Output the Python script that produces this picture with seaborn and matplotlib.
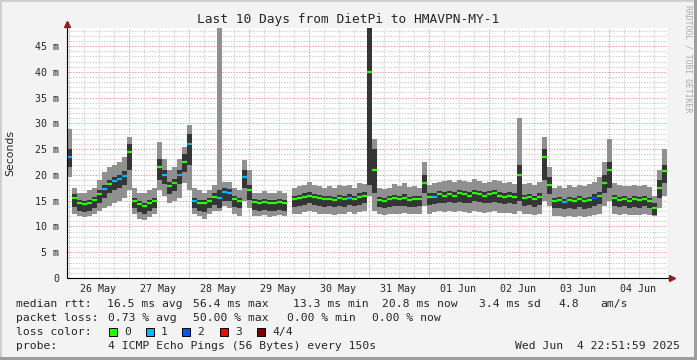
import numpy as np
import pandas as pd
import matplotlib
matplotlib.use('Agg')
import matplotlib.pyplot as plt
import matplotlib.dates as mdates
from matplotlib.patches import Rectangle
import seaborn as sns

# smokeping style rtt data, 2 hour bins, first bin starts 25 May 23:24 (values in ms)
start = '2025-05-25 23:24'
nan = np.nan

med = [23.5, 15.5, 14.5, 14.3, 14.6, 15.2, 16.3, 17.2, 18.2, 18.8,
       19.2, 19.8, 24.5, 15.0, 14.3, 14.0, 14.5, 15.0, 21.5, 20.0,
       17.8, 18.5, 20.0, 22.5, 26.0, 15.0, 14.5, 14.5, 15.0, 15.8,
       15.5, 16.7, 16.5, 15.3, 15.0, 19.5, 17.0, 14.8, 14.6, 14.8,
       14.5, 14.6, 14.8, 14.5, nan, 15.3, 15.5, 15.8, 16.0, 15.7,
       15.5, 15.3, 15.4, 15.2, 15.5, 15.3, 15.6, 15.4, 15.8, 16.0,
       40.0, 21.0, 15.2, 15.0, 15.3, 15.5, 15.4, 15.6, 15.2, 15.3,
       15.4, 18.5, 15.8, 15.8, 16.2, 16.0, 16.3, 16.0, 16.4, 16.2,
       16.0, 16.5, 16.3, 16.0, 16.2, 16.4, 16.0, 15.8, 16.0, 15.8,
       20.0, 15.5, 15.7, 15.3, 15.8, 23.5, 18.0, 15.0, 15.2, 14.8,
       15.2, 15.0, 15.3, 15.0, 15.2, 15.6, 16.0, 18.5, 21.0, 15.5,
       15.2, 15.4, 15.0, 15.3, 15.2, 15.4, 15.0, 13.5, 17.5, 20.8]

# fastest ping (bottom of smoke)
lo = [19.5, 12.5, 12.0, 11.8, 12.0, 12.5, 13.0, 13.5, 14.0, 14.5,
      15.0, 15.5, 17.0, 12.5, 11.5, 11.2, 11.8, 12.5, 17.0, 16.0,
      14.5, 15.0, 15.5, 18.5, 17.0, 12.5, 12.0, 11.5, 12.5, 13.0,
      13.0, 14.0, 13.5, 12.5, 12.0, 15.0, 13.5, 12.0, 12.0, 12.2,
      11.8, 12.0, 12.2, 12.0, nan, 12.5, 12.5, 12.8, 13.0, 12.8,
      12.5, 12.5, 12.4, 12.3, 12.5, 12.5, 12.8, 12.5, 12.8, 13.0,
      16.0, 13.0, 12.5, 12.2, 12.5, 12.5, 12.5, 12.6, 12.4, 12.4,
      12.5, 14.0, 12.5, 12.8, 13.0, 12.8, 13.0, 12.8, 13.0, 12.8,
      12.7, 13.0, 12.8, 12.6, 12.8, 13.0, 12.7, 12.6, 12.7, 12.5,
      13.0, 12.5, 12.4, 12.2, 12.5, 15.0, 14.0, 12.0, 12.0, 11.8,
      12.0, 11.8, 12.0, 11.8, 12.0, 12.2, 12.5, 14.0, 15.0, 12.5,
      12.2, 12.4, 12.2, 12.3, 12.2, 12.5, 12.2, 12.0, 13.5, 16.0]

# slowest ping (top of smoke)
hi = [29.0, 17.5, 16.5, 16.5, 17.0, 17.5, 19.0, 20.5, 21.5, 22.0,
      22.5, 23.5, 27.3, 17.5, 16.5, 16.5, 17.0, 17.5, 26.4, 23.0,
      21.0, 21.5, 23.0, 25.5, 29.6, 17.5, 17.0, 16.5, 17.0, 18.0,
      48.5, 18.6, 18.6, 17.5, 17.0, 22.9, 21.0, 16.5, 16.5, 16.8,
      16.5, 16.5, 16.8, 16.5, nan, 17.5, 17.8, 18.0, 18.6, 18.0,
      17.8, 17.5, 17.8, 17.5, 18.0, 17.8, 18.0, 17.5, 18.5, 18.2,
      48.5, 27.0, 17.5, 17.3, 17.5, 18.3, 17.8, 18.4, 17.6, 17.8,
      17.5, 22.5, 18.0, 18.5, 18.6, 18.8, 19.0, 18.6, 19.0, 18.8,
      18.6, 19.2, 18.8, 18.5, 18.6, 19.0, 18.8, 18.5, 18.6, 18.2,
      31.0, 18.3, 18.5, 18.0, 18.6, 27.3, 21.5, 17.5, 17.8, 17.5,
      18.0, 17.6, 18.0, 17.8, 18.3, 18.6, 19.5, 22.5, 27.0, 18.5,
      18.0, 17.8, 17.8, 18.0, 17.8, 18.0, 17.6, 16.0, 21.0, 25.0]

# 2nd and 3rd ping (dark core of the smoke)
p2 = [21.5, 13.8, 13.0, 12.8, 13.0, 13.6, 14.6, 15.5, 16.4, 17.0,
      17.5, 18.0, 21.0, 13.6, 12.8, 12.5, 13.0, 13.5, 19.0, 18.2,
      16.2, 16.8, 18.2, 20.5, 22.0, 13.5, 13.0, 12.9, 13.5, 14.2,
      13.5, 15.0, 15.0, 13.8, 13.5, 17.5, 15.2, 13.2, 13.0, 13.2,
      13.0, 13.0, 13.2, 13.0, nan, 13.8, 14.0, 14.2, 14.5, 14.2,
      14.0, 13.8, 13.9, 13.7, 14.0, 13.8, 14.1, 13.9, 14.2, 14.5,
      18.0, 16.5, 13.7, 13.5, 13.8, 14.0, 13.9, 14.0, 13.7, 13.8,
      13.9, 16.5, 14.2, 14.3, 14.6, 14.5, 14.7, 14.5, 14.8, 14.6,
      14.5, 14.9, 14.7, 14.5, 14.6, 14.8, 14.5, 14.3, 14.5, 14.3,
      15.0, 14.0, 14.1, 13.8, 14.2, 19.0, 16.2, 13.5, 13.6, 13.3,
      13.6, 13.4, 13.7, 13.4, 13.6, 14.0, 14.4, 16.5, 17.5, 14.0,
      13.7, 13.9, 13.5, 13.8, 13.6, 13.9, 13.5, 12.3, 15.5, 18.5]

p3 = [25.0, 16.2, 15.1, 14.9, 15.2, 15.8, 17.0, 18.0, 19.0, 19.6,
      20.0, 20.8, 26.0, 15.6, 14.9, 14.6, 15.1, 15.6, 23.0, 21.0,
      18.6, 19.3, 21.0, 24.0, 28.0, 15.6, 15.1, 15.1, 15.6, 16.4,
      17.0, 17.4, 17.2, 15.9, 15.6, 21.0, 18.0, 15.4, 15.2, 15.4,
      15.1, 15.2, 15.4, 15.1, nan, 15.9, 16.1, 16.4, 16.6, 16.3,
      16.1, 15.9, 16.0, 15.8, 16.1, 15.9, 16.2, 16.0, 16.4, 16.6,
      48.5, 25.0, 15.8, 15.6, 15.9, 16.1, 16.0, 16.2, 15.8, 15.9,
      16.0, 20.0, 16.4, 16.4, 16.8, 16.6, 16.9, 16.6, 17.0, 16.8,
      16.6, 17.1, 16.9, 16.6, 16.8, 17.0, 16.6, 16.4, 16.6, 16.4,
      22.0, 16.1, 16.3, 15.9, 16.4, 25.0, 19.5, 15.6, 15.8, 15.4,
      15.8, 15.6, 15.9, 15.6, 15.8, 16.2, 16.6, 20.0, 22.5, 16.1,
      15.8, 16.0, 15.6, 15.9, 15.8, 16.0, 15.6, 14.5, 19.0, 22.0]

# lost pings per bin (of 4)
loss = [1, 0, 0, 0, 0, 0, 0, 1, 0, 1,
        1, 1, 0, 0, 0, 0, 0, 0, 0, 1,
        0, 0, 1, 0, 1, 1, 0, 0, 0, 0,
        1, 1, 1, 0, 0, 1, 0, 0, 0, 0,
        0, 0, 0, 0, 0, 0, 0, 0, 0, 0,
        0, 0, 0, 0, 0, 0, 1, 0, 0, 0,
        0, 0, 0, 0, 0, 0, 0, 0, 0, 0,
        0, 0, 0, 1, 0, 0, 0, 0, 0, 0,
        0, 0, 0, 0, 0, 0, 0, 0, 0, 0,
        0, 0, 0, 0, 0, 0, 0, 0, 0, 1,
        0, 0, 0, 0, 0, 2, 0, 0, 0, 0,
        0, 0, 0, 0, 0, 0, 0, 0, 0, 0]

loss_labels = ['0', '1', '2', '3', '4/4']
loss_colors = ['#26ff00', '#00b8ff', '#0059ff', '#ff0000', '#7e0000']

title = 'Last 10 Days from DietPi to HMAVPN-MY-1'
rtt_stats = ['16.5 ms avg', '56.4 ms max', '13.3 ms min', '20.8 ms now', '3.4 ms sd', '4.8', 'am/s']
loss_stats = ['0.73 % avg', '50.00 % max', '0.00 % min', '0.00 % now']
probe_text = '4 ICMP Echo Pings (56 Bytes) every 150s'
stamp = 'Wed Jun  4 22:51:59 2025'

sns.set_style('white')
plt.rcParams['font.family'] = ['DejaVu Sans Mono', 'DejaVu Sans']

W, H = 697, 360
fig = plt.figure(figsize=(W / 100, H / 100), dpi=100, facecolor='#f3f3f3')


def fx(x):
    return x / W


def fy(y):
    return 1 - y / H


ax = fig.add_axes([fx(67), fy(278), 600 / W, 250 / H])
ax.set_facecolor('white')

edges = pd.date_range(start, periods=len(med) + 1, freq='2h')
xe = mdates.date2num(edges.to_pydatetime())


def steps(v):
    return np.repeat(xe, 2)[1:-1], np.repeat(np.asarray(v, float), 2)


xs, lo_s = steps(lo)
_, hi_s = steps(hi)
_, p2_s = steps(p2)
_, p3_s = steps(p3)

# grid (behind the data)
for v in range(1, 49):
    c = '#f29a9a' if v % 5 == 0 else '#cfcfcf'
    ax.axhline(v, color=c, lw=0.75, ls=(0, (1.35, 1.35)), zorder=0.5)
for t in pd.date_range('2025-05-26 00:00', '2025-06-04 23:59', freq='6h'):
    c = '#f29a9a' if t.hour == 0 else '#cfcfcf'
    ax.axvline(mdates.date2num(t.to_pydatetime()), color=c, lw=0.75, ls=(0, (1.35, 1.35)), zorder=0.5)

# smoke
ax.fill_between(xs, lo_s, hi_s, color='#909090', lw=0, zorder=1)
ax.fill_between(xs, p2_s, p3_s, color='#353535', lw=0, zorder=1.1)

# median, coloured by loss
df = pd.DataFrame({'t': (xe[:-1] + xe[1:]) / 2, 'med': med, 'loss': loss})
pal = {i: loss_colors[i] for i in sorted(set(loss))}
sns.scatterplot(data=df, x='t', y='med', hue='loss', palette=pal, marker='_',
                s=14, linewidth=1.6, legend=False, ax=ax, zorder=3)

ax.set_xlim(xe[0], xe[-1])
ax.set_ylim(0, 48.5)
ax.set_xlabel('')
ax.set_ylabel('')

ax.set_yticks(range(0, 50, 5))
ax.set_yticks(range(0, 49), minor=True)
ax.yaxis.set_major_formatter(plt.FuncFormatter(lambda v, _: '0' if v == 0 else f'{v:.0f} m'))
ax.xaxis.set_major_locator(mdates.HourLocator(byhour=[12]))
ax.xaxis.set_minor_locator(mdates.HourLocator(byhour=[0, 6, 18]))
ax.xaxis.set_major_formatter(mdates.DateFormatter('%d %b'))
ax.tick_params(axis='both', which='both', direction='out', color='#000000', width=0.7,
               labelsize=7.2, pad=2)
ax.tick_params(axis='y', which='major', length=3.5)
ax.tick_params(axis='y', which='minor', length=1.8)
ax.tick_params(axis='x', which='both', length=2.2)
for lab in ax.get_xticklabels() + ax.get_yticklabels():
    lab.set_family('DejaVu Sans Mono')

for s in ax.spines.values():
    s.set_visible(False)
ax.plot([0, 0], [0, 1.014], transform=ax.transAxes, color='#000000', lw=0.8, clip_on=False, zorder=4)
ax.plot([0, 1.008], [0, 0], transform=ax.transAxes, color='#000000', lw=0.8, clip_on=False, zorder=4)
ax.plot([0], [1.016], transform=ax.transAxes, marker='^', ms=4.5, color='#9a1a1a', clip_on=False, zorder=5)
ax.plot([1.008], [0], transform=ax.transAxes, marker='>', ms=4.5, color='#9a1a1a', clip_on=False, zorder=5)

# texts
fig.text(fx(348), fy(19), title, ha='center', va='center', fontsize=9.3, family='DejaVu Sans Mono')
fig.text(fx(10), fy(153), 'Seconds', rotation=90, ha='center', va='center', fontsize=7.8,
         family='DejaVu Sans')
fig.text(fx(688), fy(59), 'RRDTOOL / TOBI OETIKER', rotation=270, ha='center', va='center',
         fontsize=5.9, color='#aaaaaa', family='DejaVu Sans Mono')

fs = 8.2
row1, row2, row3, row4 = 304, 318, 332, 346
fig.text(fx(16), fy(row1), 'median rtt:', ha='left', va='center', fontsize=fs)
for s, x in zip(rtt_stats, [107, 193, 293, 382, 479, 558, 600]):
    fig.text(fx(x), fy(row1), s, ha='left', va='center', fontsize=fs)
fig.text(fx(16), fy(row2), 'packet loss:', ha='left', va='center', fontsize=fs)
for s, x in zip(loss_stats, [107.5, 193, 287, 372]):
    fig.text(fx(x), fy(row2), s, ha='left', va='center', fontsize=fs)
fig.text(fx(16), fy(row3), 'loss color:', ha='left', va='center', fontsize=fs)
for lab, col, x in zip(loss_labels, loss_colors, [109, 146, 182, 220, 257]):
    fig.patches.append(Rectangle((fx(x), fy(336)), 8 / W, 8 / H, transform=fig.transFigure,
                                 facecolor=col, edgecolor='black', lw=0.7))
    fig.text(fx(x + 15), fy(row3), lab, ha='left', va='center', fontsize=fs)
fig.text(fx(16), fy(row4), 'probe:', ha='left', va='center', fontsize=fs)
fig.text(fx(107.5), fy(row4), probe_text, ha='left', va='center', fontsize=fs)
fig.text(fx(680), fy(row4), stamp, ha='right', va='center', fontsize=fs)

# 3d frame round the canvas
fig.patches.append(Rectangle((0, 1 - 2 / H), 1, 2 / H, transform=fig.transFigure, color='#cfcfcf', lw=0))
fig.patches.append(Rectangle((0, 0), 2 / W, 1, transform=fig.transFigure, color='#cfcfcf', lw=0))
fig.patches.append(Rectangle((0, 0), 1, 3 / H, transform=fig.transFigure, color='#9d9d9d', lw=0))
fig.patches.append(Rectangle((1 - 3 / W, 0), 3 / W, 1, transform=fig.transFigure, color='#9d9d9d', lw=0))

fig.savefig('out.png', dpi=100, facecolor=fig.get_facecolor())
